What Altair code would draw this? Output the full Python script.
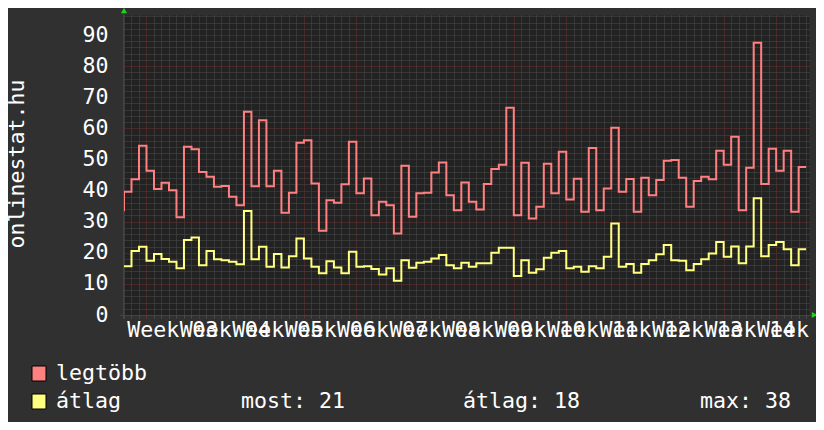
import altair as alt
import pandas as pd

# ---------------- data ----------------
legtobb = [39.6, 43.6, 54.4, 46.4, 40.5, 42.5, 40.1, 31.4, 54.1, 53.3,
           46.0, 44.4, 41.2, 41.5, 38.0, 35.3, 65.3, 41.4, 62.6, 41.4,
           46.4, 32.9, 39.3, 55.4, 56.2, 42.3, 27.1, 36.9, 36.1, 42.0,
           55.7, 39.1, 43.9, 32.1, 36.4, 35.3, 26.2, 48.0, 31.6, 39.1,
           39.3, 45.8, 49.0, 38.5, 33.7, 42.6, 36.4, 33.9, 42.1, 46.9,
           48.3, 66.6, 32.1, 48.9, 31.0, 34.8, 48.6, 39.1, 52.5, 37.1,
           43.8, 33.2, 53.7, 33.7, 40.7, 60.2, 39.6, 43.7, 33.2, 44.1,
           38.5, 43.4, 49.6, 49.8, 44.1, 34.8, 43.1, 44.4, 43.6, 52.8,
           48.3, 57.3, 33.7, 47.3, 87.5, 42.1, 53.4, 46.4, 52.8, 33.2,
           47.6]
atlag = [15.7, 20.6, 21.9, 17.4, 19.6, 18.0, 17.1, 15.0, 24.1, 24.9,
         16.0, 20.6, 17.9, 17.6, 17.1, 16.3, 33.4, 17.9, 21.9, 15.5,
         19.6, 15.3, 18.9, 24.6, 18.2, 15.5, 13.4, 17.3, 15.3, 13.4,
         20.3, 15.5, 15.7, 14.8, 13.0, 15.0, 11.0, 17.6, 15.2, 16.8,
         17.1, 18.2, 19.3, 16.0, 15.0, 16.8, 15.5, 16.6, 16.6, 20.0,
         21.6, 21.6, 12.5, 17.6, 13.6, 14.7, 18.4, 20.0, 20.6, 15.0,
         15.5, 13.9, 15.7, 15.0, 18.7, 29.4, 15.5, 16.4, 13.6, 16.4,
         17.6, 19.5, 22.5, 17.6, 17.4, 14.4, 16.4, 17.9, 19.8, 23.5,
         18.7, 22.0, 16.6, 22.0, 37.5, 18.9, 22.5, 23.5, 21.1, 16.0,
         21.1]
prev_legtobb = 33.7          # value of the day before the window
prev_atlag = 15.7
week_starts = [3, 10, 17, 24, 31, 38, 45, 52, 59, 66, 73, 80, 87]
week_numbers = [3, 4, 5, 6, 7, 8, 9, 10, 11, 12, 13, 14, 15]
y_ticks = [0, 10, 20, 30, 40, 50, 60, 70, 80, 90]
series_names = ["legtöbb", "átlag"]
stat_names = ["most", "átlag", "max"]
stat_values = [21, 18, 38]
site_title = "onlinestat.hu"

# ---------------- style ----------------
FONT = "DejaVu Sans Mono"
FS = 21.6
RED = "#ff8080"
YEL = "#ffff80"
BG = "#303030"
CANVAS = "#222222"
GRID = "#4c4c4c"
MGRID = "#6e3030"
GREEN = "#1ed21e"
TXT = "#ffffff"

n = len(legtobb)
df = pd.DataFrame({
    "day": list(range(-1, n + 1)),
    "legtobb": [prev_legtobb] + legtobb + [legtobb[-1]],
    "atlag": [prev_atlag] + atlag + [atlag[-1]],
})
wdf = pd.DataFrame({"start": week_starts,
                    "label": [f"Week {w:02d}" for w in week_numbers]})

xscale = alt.Scale(domain=[0, 91.38], nice=False, zero=False)
yscale = alt.Scale(domain=[0, 96.43], nice=False, zero=False)

minor_x = [d for d in range(0, n + 1) if d % 7 != 3]
minor_y = [v for v in range(0, 97, 2) if v % 10 != 0]

red_line = alt.Chart(df).mark_line(
    interpolate="step-after", color=RED, strokeWidth=2, clip=True
).encode(
    x=alt.X("day:Q", scale=xscale, title=None,
            axis=alt.Axis(values=minor_x, grid=True, gridColor=GRID, gridDash=[1, 1],
                          labels=False, ticks=True, tickColor=GRID, tickSize=3,
                          domain=False, orient="bottom")),
    y=alt.Y("legtobb:Q", scale=yscale, title=None,
            axis=alt.Axis(values=minor_y, grid=True, gridColor=GRID, gridDash=[1, 1],
                          labels=False, ticks=False, domain=False, orient="left")),
)

yel_line = alt.Chart(df).mark_line(
    interpolate="step-after", color=YEL, strokeWidth=2, clip=True
).encode(
    x=alt.X("day:Q", scale=xscale, title=None,
            axis=alt.Axis(values=week_starts, grid=True, gridColor=MGRID, gridDash=[1, 1],
                          labels=False, ticks=True, tickColor=MGRID, tickSize=3,
                          domain=False, orient="bottom")),
    y=alt.Y("atlag:Q", scale=yscale, title=None,
            axis=alt.Axis(values=y_ticks, grid=True, gridColor=MGRID, gridDash=[1, 1],
                          labels=True, labelFont=FONT, labelFontSize=FS, labelColor=TXT,
                          labelPadding=16, labelOverlap=False,
                          ticks=False, domain=False, orient="left")),
)

week_labels = alt.Chart(wdf).transform_calculate(
    mid="datum.start + 3.5"
).mark_text(
    font=FONT, fontSize=FS, color=TXT, align="center", baseline="alphabetic"
).encode(
    x=alt.X("mid:Q", scale=xscale, axis=None),
    y=alt.value(322),
    text="label:N",
)

axis_x = alt.Chart().mark_rule(color="#444444", strokeWidth=1).encode(
    x=alt.value(-4), x2=alt.value(688), y=alt.value(300.5))
axis_y = alt.Chart().mark_rule(color="#444444", strokeWidth=1).encode(
    x=alt.value(-0.5), y=alt.value(-6), y2=alt.value(304))
arrow_up = alt.Chart().mark_point(shape="triangle-up", filled=True, color=GREEN,
                                  size=38, opacity=1).encode(
    x=alt.value(0), y=alt.value(-4.5))
arrow_right = alt.Chart().mark_point(shape="triangle-right", filled=True, color=GREEN,
                                     size=38, opacity=1).encode(
    x=alt.value(690.5), y=alt.value(300))

title_text = alt.Chart().mark_text(
    text=site_title, font=FONT, fontSize=FS, color=TXT, angle=270,
    align="center", baseline="middle"
).encode(x=alt.value(-106), y=alt.value(149))

layers = [red_line, yel_line, week_labels, axis_x, axis_y, arrow_up, arrow_right, title_text]

row_y = [365, 393]
sq_top = [351, 379]
for name, col, ry, st in zip(series_names, [RED, YEL], row_y, sq_top):
    layers.append(alt.Chart().mark_rect(color=col, stroke="#000000", strokeWidth=1).encode(
        x=alt.value(-92), x2=alt.value(-78), y=alt.value(st), y2=alt.value(st + 15)))
    layers.append(alt.Chart().mark_text(
        text=name, font=FONT, fontSize=FS, color=TXT, align="left", baseline="alphabetic"
    ).encode(x=alt.value(-68), y=alt.value(ry)))

stat_x = [117, 339, 576]
for nm, val, sx in zip(stat_names, stat_values, stat_x):
    layers.append(alt.Chart().mark_text(
        text=f"{nm}: {val}", font=FONT, fontSize=FS, color=TXT, align="left",
        baseline="alphabetic"
    ).encode(x=alt.value(sx), y=alt.value(393)))

chart = alt.layer(*layers).resolve_axis(
    x="independent", y="independent"
).properties(
    width=685, height=300,
    autosize=alt.AutoSizeParams(type="none"),
    padding={"left": 116, "top": 7, "right": 7, "bottom": 107},
    background=BG,
).configure_view(fill=CANVAS, stroke="transparent")

chart.save("out.html", embed_options={"renderer": "svg", "actions": False})
